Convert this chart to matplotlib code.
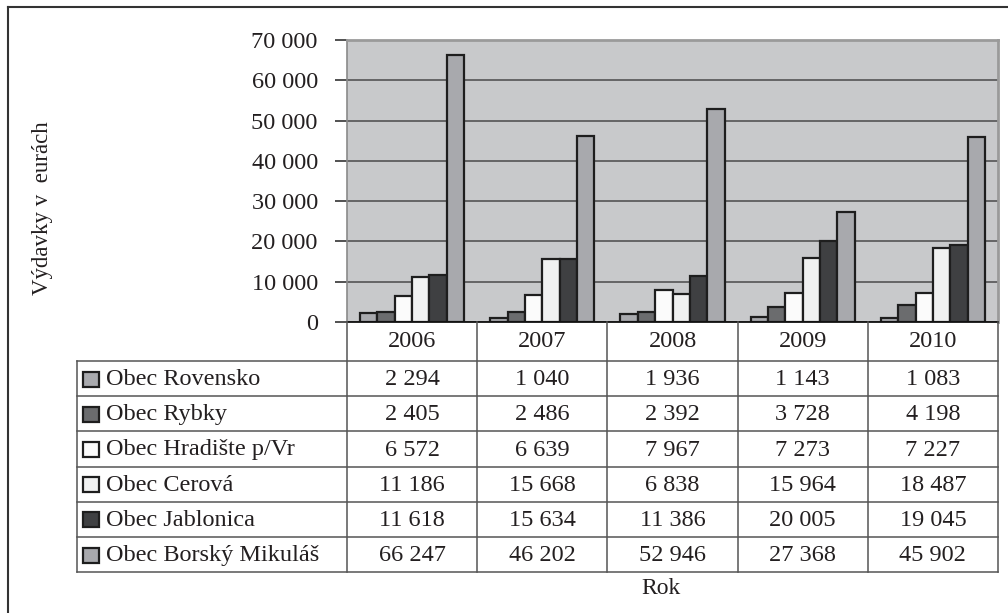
import matplotlib
matplotlib.use("Agg")
import matplotlib.pyplot as plt
from matplotlib.lines import Line2D
from matplotlib.patches import Rectangle
import numpy as np

plt.rcParams['font.family'] = ['Liberation Serif', 'DejaVu Serif']

roky = ['2006', '2007', '2008', '2009', '2010']
obce = ['Obec Rovensko', 'Obec Rybky', 'Obec Hradište p/Vr', 'Obec Cerová',
        'Obec Jablonica', 'Obec Borský Mikuláš']
rovensko = [2294, 1040, 1936, 1143, 1083]
rybky = [2405, 2486, 2392, 3728, 4198]
hradiste = [6572, 6639, 7967, 7273, 7227]
cerova = [11186, 15668, 6838, 15964, 18487]
jablonica = [11618, 15634, 11386, 20005, 19045]
borsky = [66247, 46202, 52946, 27368, 45902]
hodnoty = [rovensko, rybky, hradiste, cerova, jablonica, borsky]
farby = ['#a9aaae', '#6b6c6e', '#fbfbfb', '#f0f1f1', '#3f4042', '#a8a9ad']

FS = 17.5
W, H = 1008, 613
fig = plt.figure(figsize=(W / 100, H / 100), dpi=100)

def fx(px):
    return px / W

def fy(py):
    return 1 - py / H

# plot area in pixels
L, R, T, B = 347, 998, 40, 322
ax = fig.add_axes([fx(L), fy(B), fx(R - L), fy(T) - fy(B)])
ax.set_facecolor('#c8c9cb')

x = np.arange(len(roky))
w = 0.8 / len(obce)
for j, (vals, c) in enumerate(zip(hodnoty, farby)):
    ax.bar(x + (j - 2.5) * w, vals, width=w, color=c, edgecolor='#1e1e1e',
           linewidth=1.6, zorder=3)

ax.set_xlim(-0.5, len(roky) - 0.5)
ax.set_ylim(0, 70000)
ax.set_yticks(range(0, 70001, 10000))
ax.set_yticklabels([f'{v:,}'.replace(',', ' ') for v in range(0, 70001, 10000)],
                   fontsize=FS, color='#231f20')
ax.set_xticks([])
ax.tick_params(axis='y', length=9, width=1.2, color='#333333', pad=12)
ax.grid(axis='y', color='#4a4a4a', linewidth=1.1, zorder=1)
for s in ['top', 'right']:
    ax.spines[s].set_color('#9a9a9a')
    ax.spines[s].set_linewidth(2)
ax.spines['left'].set_color('#8a8a8a')
ax.spines['left'].set_linewidth(1.2)
ax.spines['bottom'].set_color('#111111')
ax.spines['bottom'].set_linewidth(1.3)
ax.spines['bottom'].set_zorder(4)

fig.text(fx(43), fy(208), 'Výdavky v  eurách', rotation=90, ha='center',
         va='center', fontsize=16.5, color='#231f20')

# data table under the chart
tc = '#555555'
row_top = 361
row_h = 35.2
n = len(obce)
bottom = row_top + n * row_h
col_w = (R - L) / len(roky)

def hline(y, x0, x1):
    fig.add_artist(Line2D([fx(x0), fx(x1)], [fy(y), fy(y)], color=tc, lw=1.1))

def vline(xp, y0, y1):
    fig.add_artist(Line2D([fx(xp), fx(xp)], [fy(y0), fy(y1)], color=tc, lw=1.1))

for i in range(n + 1):
    hline(row_top + i * row_h, 77, R)
vline(77, row_top, bottom)
for k in range(len(roky) + 1):
    vline(L + k * col_w, B, bottom)
# tick extension of the baseline
hline(B, 338, L)

for k, rok in enumerate(roky):
    fig.text(fx(L + (k + 0.5) * col_w), fy((B + row_top) / 2), rok,
             ha='center', va='center', fontsize=FS, color='#231f20')

for i, (obec, vals, c) in enumerate(zip(obce, hodnoty, farby)):
    yc = row_top + (i + 0.5) * row_h
    fig.add_artist(Rectangle((fx(83), fy(yc + 8)), fx(16), fy(yc - 7) - fy(yc + 8),
                             facecolor=c, edgecolor='#1e1e1e', lw=1.6,
                             transform=fig.transFigure))
    fig.text(fx(106), fy(yc + 1), obec, ha='left', va='center', fontsize=FS,
             color='#231f20')
    for k, v in enumerate(vals):
        fig.text(fx(L + (k + 0.5) * col_w), fy(yc + 1), f'{v:,}'.replace(',', ' '),
                 ha='center', va='center', fontsize=FS, color='#231f20')

fig.text(fx(661), fy(589), 'Rok', ha='center', va='center', fontsize=17,
         color='#231f20')

# outer frame
fig.add_artist(Line2D([fx(8), fx(W)], [fy(7), fy(7)], color='#333333', lw=1.5))
fig.add_artist(Line2D([fx(8), fx(8)], [fy(7), 0], color='#333333', lw=1.5))

fig.savefig('out.png', dpi=100)
